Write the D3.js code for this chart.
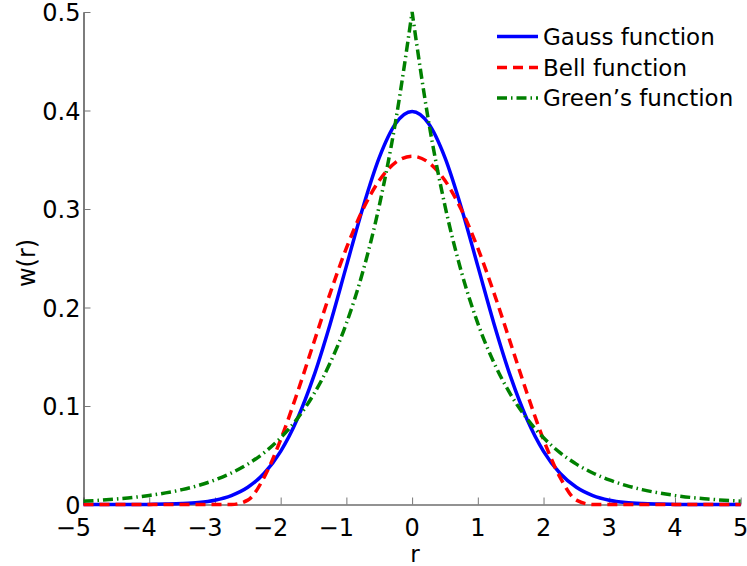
<!DOCTYPE html>
<html>
<head>
<meta charset="utf-8">
<script src="https://cdn.jsdelivr.net/npm/d3@7"></script>
<style>
  html, body { margin: 0; padding: 0; background: #fff; }
  svg { display: block; font-family: "DejaVu Sans", sans-serif; }
</style>
</head>
<body>
<svg id="chart" width="747" height="566"></svg>
<script>
// Sample positions along r
const rValues = [-5, -4.75, -4.5, -4.25, -4, -3.75, -3.5, -3.25, -3, -2.75, -2.5, -2.25, -2, -1.75, -1.5, -1.25, -1, -0.75, -0.5, -0.25,
  0, 0.25, 0.5, 0.75, 1, 1.25, 1.5, 1.75, 2, 2.25, 2.5, 2.75, 3, 3.25, 3.5, 3.75, 4, 4.25, 4.5, 4.75, 5];

// Kernel values w(r)
const gaussValues = [0, 0, 0, 0, 0.0001, 0.0004, 0.0009, 0.0020, 0.0044, 0.0091, 0.0175, 0.0317, 0.0540, 0.0863, 0.1295, 0.1826, 0.2420, 0.3011, 0.3521, 0.3867,
  0.3989, 0.3867, 0.3521, 0.3011, 0.2420, 0.1826, 0.1295, 0.0863, 0.0540, 0.0317, 0.0175, 0.0091, 0.0044, 0.0020, 0.0009, 0.0004, 0.0001, 0, 0, 0, 0];
const bellValues = [0, 0, 0, 0, 0, 0, 0, 0, 0, 0, 0.0044, 0.0278, 0.0658, 0.1127, 0.1635, 0.2139, 0.2602, 0.2993, 0.3289, 0.3473,
  0.3536, 0.3473, 0.3289, 0.2993, 0.2602, 0.2139, 0.1635, 0.1127, 0.0658, 0.0278, 0.0044, 0, 0, 0, 0, 0, 0, 0, 0, 0, 0];
const greenValues = [0.0034, 0.0043, 0.0056, 0.0071, 0.0092, 0.0118, 0.0151, 0.0194, 0.0249, 0.0320, 0.0410, 0.0527, 0.0677, 0.0869, 0.1116, 0.1433, 0.1839, 0.2362, 0.3033, 0.3894,
  0.5, 0.3894, 0.3033, 0.2362, 0.1839, 0.1433, 0.1116, 0.0869, 0.0677, 0.0527, 0.0410, 0.0320, 0.0249, 0.0194, 0.0151, 0.0118, 0.0092, 0.0071, 0.0056, 0.0043, 0.0034];

const xTicks = [-5, -4, -3, -2, -1, 0, 1, 2, 3, 4, 5];
const yTicks = [0, 0.1, 0.2, 0.3, 0.4, 0.5];
const seriesNames = ["Gauss function", "Bell function", "Green\u2019s function"];

const svg = d3.select("#chart");
const plot = { left: 83.5, right: 740.7, top: 12, bottom: 504.5 };

const x = d3.scaleLinear().domain([-5, 5]).range([plot.left, plot.right]);
const y = d3.scaleLinear().domain([0, 0.5]).range([plot.bottom, plot.top]);

const tickFont = 24;

// Axes: inward ticks, no box
const xAxis = d3.axisBottom(x).tickValues(xTicks).tickSizeInner(-7).tickSizeOuter(0).tickFormat(() => "");
const yAxis = d3.axisLeft(y).tickValues(yTicks).tickSizeInner(-7).tickSizeOuter(0).tickFormat(() => "");

const gx = svg.append("g").attr("transform", `translate(0,${plot.bottom})`).call(xAxis);
const gy = svg.append("g").attr("transform", `translate(${plot.left},0)`).call(yAxis);
[gx, gy].forEach(g => {
  g.select(".domain").attr("stroke", "#262626").attr("stroke-width", 1.2);
  g.selectAll(".tick line").attr("stroke", "#777").attr("stroke-width", 1);
});

// x tick labels: digit centred on the tick, minus sign hanging left
svg.append("g").selectAll("text").data(xTicks).join("text")
  .attr("x", d => x(d) + 0.318 * tickFont)
  .attr("y", plot.bottom + 31)
  .attr("text-anchor", "end")
  .attr("font-size", tickFont)
  .attr("fill", "#000")
  .text(d => d < 0 ? "\u2212" + Math.abs(d) : String(d));

svg.append("g").selectAll("text").data(yTicks).join("text")
  .attr("x", plot.left - 3)
  .attr("y", d => y(d) + 1)
  .attr("dy", "0.35em")
  .attr("text-anchor", "end")
  .attr("font-size", tickFont)
  .attr("fill", "#000")
  .text(d => d === 0 ? "0" : d3.format(".1f")(d));

// Axis titles
svg.append("text")
  .attr("x", 415)
  .attr("y", 562)
  .attr("text-anchor", "middle")
  .attr("font-size", 23)
  .text("r");
svg.append("text")
  .attr("transform", "translate(35,263) rotate(-90)")
  .attr("text-anchor", "middle")
  .attr("font-size", tickFont)
  .text("w(r)");

// Curves
const pts = vals => rValues.map((r, i) => ({ r, v: vals[i] }));
const line = d3.line().x(d => x(d.r)).y(d => y(d.v)).curve(d3.curveMonotoneX);

const styles = [
  { color: "#0000ff", dash: null },
  { color: "#ff0000", dash: "10,6" },
  { color: "#008000", dash: "10,4,1.5,4" }
];

const curves = svg.append("g").attr("fill", "none").attr("stroke-width", 3.5);

curves.append("path")
  .attr("d", line(pts(gaussValues)))
  .attr("stroke", styles[0].color);

curves.append("path")
  .attr("d", line(pts(bellValues)))
  .attr("stroke", styles[1].color)
  .attr("stroke-dasharray", styles[1].dash);

// Green's function has a cusp at r = 0: draw each side separately
const gp = pts(greenValues);
const greenPath = line(gp.filter(d => d.r <= 0)) + line(gp.filter(d => d.r >= 0)).replace(/^M/, "L");
curves.append("path")
  .attr("d", greenPath)
  .attr("stroke", styles[2].color)
  .attr("stroke-dasharray", styles[2].dash);

// Legend
const legend = svg.append("g");
const legendY = [36.5, 67.5, 98];
seriesNames.forEach((name, i) => {
  legend.append("line")
    .attr("x1", 497).attr("x2", 538)
    .attr("y1", legendY[i]).attr("y2", legendY[i])
    .attr("stroke", styles[i].color)
    .attr("stroke-width", 3.5)
    .attr("stroke-dasharray", styles[i].dash);
  legend.append("text")
    .attr("x", 543)
    .attr("y", legendY[i])
    .attr("dy", "0.35em")
    .attr("font-size", 23)
    .attr("fill", "#000")
    .text(name);
});
</script>
</body>
</html>
